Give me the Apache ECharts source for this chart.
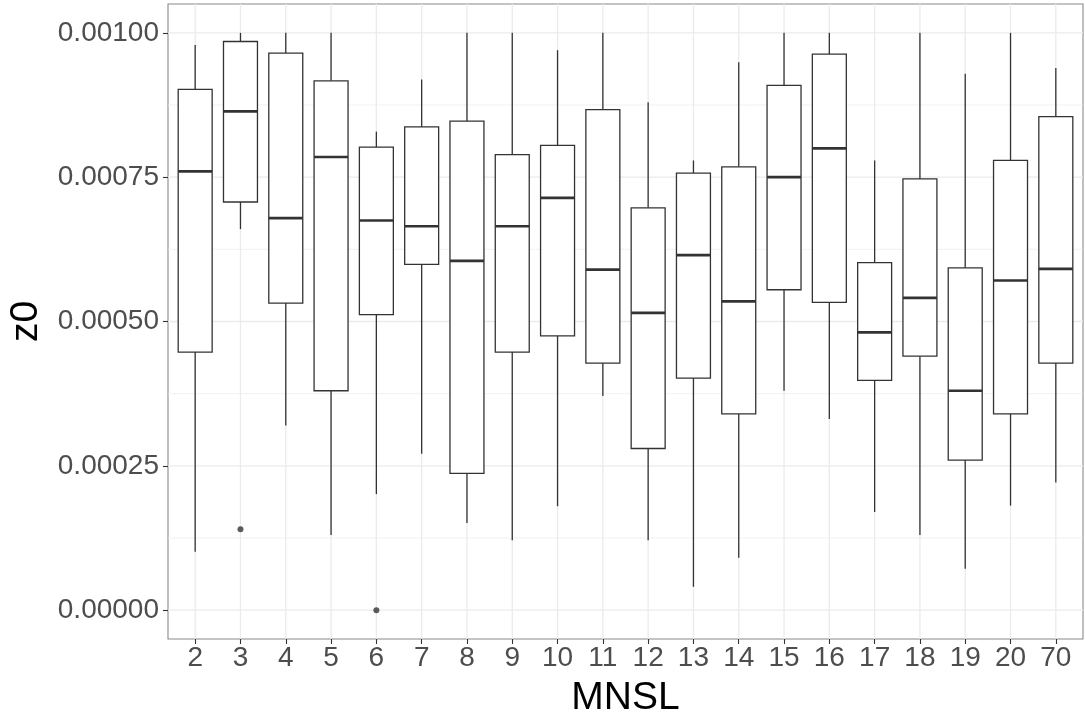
<!DOCTYPE html>
<html>
<head>
<meta charset="utf-8">
<script src="https://cdn.jsdelivr.net/npm/echarts@6/dist/echarts.min.js"></script>
<style>html,body{margin:0;padding:0;background:#fff}#chart{width:1085px;height:717px}</style>
</head>
<body>
<div id="chart"></div>
<script>
const categories = ['2','3','4','5','6','7','8','9','10','11','12','13','14','15','16','17','18','19','20','70'];
const whiskerLow  = [0.000101,0.000660,0.000320,0.000130,0.000201,0.000271,0.000151,0.000121,0.000180,0.000371,0.000121,0.0000404,0.0000906,0.000380,0.000331,0.000170,0.000130,0.0000715,0.000181,0.000221];
const q1          = [0.000447,0.000707,0.000532,0.000380,0.000512,0.000599,0.000237,0.000447,0.000475,0.000428,0.000280,0.000402,0.000340,0.000555,0.000533,0.000398,0.000440,0.000260,0.000340,0.000428];
const median      = [0.000760,0.000864,0.000679,0.000785,0.000675,0.000665,0.000605,0.000665,0.000714,0.000590,0.000515,0.000615,0.000535,0.000750,0.000800,0.000481,0.000541,0.000380,0.000571,0.000591];
const q3          = [0.000902,0.000985,0.000965,0.000917,0.000802,0.000837,0.000847,0.000789,0.000805,0.000867,0.000697,0.000757,0.000768,0.000909,0.000963,0.000602,0.000747,0.000593,0.000779,0.000855];
const whiskerHigh = [0.000979,0.001000,0.001000,0.001000,0.000829,0.000919,0.001000,0.001000,0.000970,0.001000,0.000880,0.000779,0.000949,0.001000,0.001000,0.000779,0.001000,0.000929,0.001000,0.000939];
const outlierCats   = ['3','6'];
const outlierValues = [0.000140, 0.0];
const yTicks      = [0, 0.00025, 0.0005, 0.00075, 0.001];
const yMinorTicks = [0.000125, 0.000375, 0.000625, 0.000875];

const BOX_HALF = 0.375;
const FONT = 'Liberation Sans, Arial, Helvetica, sans-serif';
const positions = categories.map((c, i) => i + 1);

const boxData = categories.map((c, i) => [i + 1, whiskerLow[i], q1[i], median[i], q3[i], whiskerHigh[i]]);
const outlierData = outlierCats.map((c, i) => [categories.indexOf(c) + 1, outlierValues[i]]);
const hGridData = yTicks.map(v => [1, v, 1]).concat(yMinorTicks.map(v => [1, v, 0]));
const vGridData = positions.map(p => [p, 0]);

const chart = echarts.init(document.getElementById('chart'), null, {renderer: 'canvas'});
chart.setOption({
  animation: false,
  backgroundColor: '#fff',
  textStyle: {fontFamily: FONT},
  grid: {left: 168, right: 2, top: 4, bottom: 78, outerBoundsMode: 'none', containLabel: false,
    show: true, borderColor: '#8a8a8a', borderWidth: 1.1, backgroundColor: '#fff'},
  xAxis: {
    type: 'value', min: 0.4, max: 20.6,
    name: 'MNSL', nameLocation: 'middle', nameGap: 40,
    nameTextStyle: {fontSize: 39, color: '#000', fontFamily: FONT},
    axisLine: {show: false, onZero: false},
    splitLine: {show: false},
    axisTick: {show: true, length: 5, lineStyle: {color: '#333', width: 1.1}, customValues: positions},
    axisLabel: {color: '#4D4D4D', fontSize: 28, margin: 5, fontFamily: FONT, customValues: positions,
      formatter: v => categories[Math.round(v) - 1]}
  },
  yAxis: {
    type: 'value', min: -0.00005, max: 0.00105,
    name: 'z0', nameLocation: 'middle', nameGap: 122, nameRotate: 90,
    nameTextStyle: {fontSize: 39, color: '#000', fontFamily: FONT},
    axisLine: {show: false, onZero: false},
    splitLine: {show: false},
    axisTick: {show: true, length: 5, lineStyle: {color: '#333', width: 1.1}, customValues: yTicks},
    axisLabel: {color: '#4D4D4D', fontSize: 28, margin: 9, fontFamily: FONT, customValues: yTicks,
      formatter: v => Number(v).toFixed(5)}
  },
  series: [
    {
      type: 'custom', silent: true, z: 1,
      data: hGridData, encode: {x: 0, y: 1},
      renderItem: (params, api) => {
        const y = api.coord([api.value(0), api.value(1)])[1];
        const cs = params.coordSys;
        return {type: 'line', shape: {x1: cs.x, y1: y, x2: cs.x + cs.width, y2: y},
          style: {stroke: '#EBEBEB', lineWidth: api.value(2) ? 1.3 : 0.7}};
      }
    },
    {
      type: 'custom', silent: true, z: 1,
      data: vGridData, encode: {x: 0, y: 1},
      renderItem: (params, api) => {
        const x = api.coord([api.value(0), api.value(1)])[0];
        const cs = params.coordSys;
        return {type: 'line', shape: {x1: x, y1: cs.y, x2: x, y2: cs.y + cs.height},
          style: {stroke: '#EBEBEB', lineWidth: 1.3}};
      }
    },
    {
      type: 'custom', z: 3,
      data: boxData, encode: {x: 0, y: [1, 2, 3, 4, 5]},
      renderItem: (params, api) => {
        const x = api.value(0);
        const pLo = api.coord([x, api.value(1)]);
        const pQ1 = api.coord([x, api.value(2)]);
        const pMed = api.coord([x, api.value(3)]);
        const pQ3 = api.coord([x, api.value(4)]);
        const pHi = api.coord([x, api.value(5)]);
        const left = api.coord([x - BOX_HALF, 0])[0];
        const right = api.coord([x + BOX_HALF, 0])[0];
        const stroke = '#333333';
        return {type: 'group', children: [
          {type: 'line', shape: {x1: pHi[0], y1: pHi[1], x2: pQ3[0], y2: pQ3[1]}, style: {stroke, lineWidth: 1.3}},
          {type: 'line', shape: {x1: pLo[0], y1: pLo[1], x2: pQ1[0], y2: pQ1[1]}, style: {stroke, lineWidth: 1.3}},
          {type: 'rect', shape: {x: left, y: pQ3[1], width: right - left, height: pQ1[1] - pQ3[1]},
            style: {fill: '#fff', stroke, lineWidth: 1.3}},
          {type: 'line', shape: {x1: left, y1: pMed[1], x2: right, y2: pMed[1]}, style: {stroke, lineWidth: 2.7}}
        ]};
      }
    },
    {
      type: 'scatter', z: 4, data: outlierData, symbol: 'circle', symbolSize: 6,
      itemStyle: {color: '#333333'}, silent: true
    }
  ]
});
</script>
</body>
</html>
